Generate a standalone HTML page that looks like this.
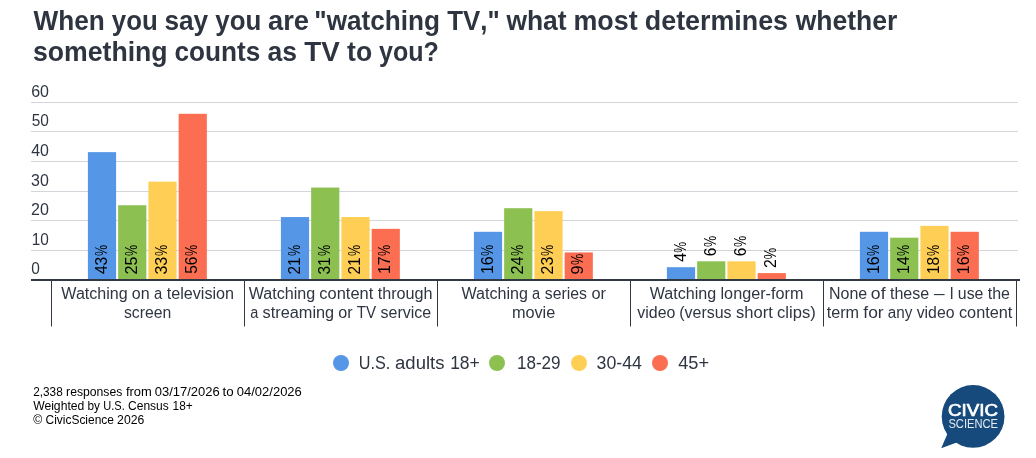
<!DOCTYPE html>
<html lang="en"><head><meta charset="utf-8"><title>CivicScience chart</title>
<style>html,body{margin:0;padding:0;background:#fff}svg{display:block}svg text{font-family:"Liberation Sans", Arial, Helvetica, sans-serif}</style></head>
<body>
<svg width="1036" height="458" viewBox="0 0 1036 458">
<rect width="1036" height="458" fill="#fff"/>
<text id="title" font-size="28" fill="#2e3541" font-weight="bold" style="font-kerning:none"><tspan x="33.61" y="30.0" textLength="71.25" lengthAdjust="spacingAndGlyphs">When</tspan> <tspan x="111.82" textLength="45.89" lengthAdjust="spacingAndGlyphs">you</tspan> <tspan x="164.38" textLength="43.75" lengthAdjust="spacingAndGlyphs">say</tspan> <tspan x="215.33" textLength="45.97" lengthAdjust="spacingAndGlyphs">you</tspan> <tspan x="268.05" textLength="41.01" lengthAdjust="spacingAndGlyphs">are</tspan> <tspan x="314.34" y="30.0" textLength="125.71" lengthAdjust="spacingAndGlyphs">"watching</tspan> <tspan x="447.25" textLength="52.44" lengthAdjust="spacingAndGlyphs">TV,"</tspan> <tspan x="506.39" y="30.0" textLength="60.26" lengthAdjust="spacingAndGlyphs">what</tspan> <tspan x="573.45" textLength="64.19" lengthAdjust="spacingAndGlyphs">most</tspan> <tspan x="644.85" textLength="143.19" lengthAdjust="spacingAndGlyphs">determines</tspan> <tspan x="795.72" textLength="101.59" lengthAdjust="spacingAndGlyphs">whether</tspan> <tspan x="33.00" y="60.8" textLength="134.64" lengthAdjust="spacingAndGlyphs">something</tspan> <tspan x="174.51" textLength="85.89" lengthAdjust="spacingAndGlyphs">counts</tspan> <tspan x="267.58" textLength="29.53" lengthAdjust="spacingAndGlyphs">as</tspan> <tspan x="304.18" textLength="35.55" lengthAdjust="spacingAndGlyphs">TV</tspan> <tspan x="347.04" textLength="25.08" lengthAdjust="spacingAndGlyphs">to</tspan> <tspan x="379.07" textLength="59.86" lengthAdjust="spacingAndGlyphs">you?</tspan></text>
<path d="M31 250.5H1018" stroke="#d3d5da" stroke-width="1" fill="none"/>
<path d="M31 220.5H1018" stroke="#d3d5da" stroke-width="1" fill="none"/>
<path d="M31 191.5H1018" stroke="#d3d5da" stroke-width="1" fill="none"/>
<path d="M31 161.5H1018" stroke="#d3d5da" stroke-width="1" fill="none"/>
<path d="M31 131.5H1018" stroke="#d3d5da" stroke-width="1" fill="none"/>
<path d="M31 102.5H1018" stroke="#d3d5da" stroke-width="1" fill="none"/>
<text id="y0" x="31.22" y="274" font-size="16" fill="#2f3542" textLength="8.59" lengthAdjust="spacingAndGlyphs">0</text>
<text id="y1" x="31.71" y="244.5" font-size="16" fill="#2f3542" textLength="17.06" lengthAdjust="spacingAndGlyphs">10</text>
<text id="y2" x="31.03" y="214.5" font-size="16" fill="#2f3542" textLength="17.79" lengthAdjust="spacingAndGlyphs">20</text>
<text id="y3" x="31.12" y="185.5" font-size="16" fill="#2f3542" textLength="17.73" lengthAdjust="spacingAndGlyphs">30</text>
<text id="y4" x="31.18" y="155.5" font-size="16" fill="#2f3542" textLength="17.70" lengthAdjust="spacingAndGlyphs">40</text>
<text id="y5" x="31.72" y="125.5" font-size="16" fill="#2f3542" textLength="17.13" lengthAdjust="spacingAndGlyphs">50</text>
<text id="y6" x="31.17" y="96.5" font-size="16" fill="#2f3542" textLength="17.76" lengthAdjust="spacingAndGlyphs">60</text>
<rect x="87.90" y="152.15" width="28.2" height="127.35" fill="#5596e6"/>
<rect x="118.15" y="205.25" width="28.2" height="74.25" fill="#8cc152"/>
<rect x="148.40" y="181.65" width="28.2" height="97.85" fill="#ffce54"/>
<rect x="178.65" y="113.80" width="28.2" height="165.70" fill="#fc6e51"/>
<rect x="280.90" y="217.05" width="28.2" height="62.45" fill="#5596e6"/>
<rect x="311.15" y="187.55" width="28.2" height="91.95" fill="#8cc152"/>
<rect x="341.40" y="217.05" width="28.2" height="62.45" fill="#ffce54"/>
<rect x="371.65" y="228.85" width="28.2" height="50.65" fill="#fc6e51"/>
<rect x="473.90" y="231.80" width="28.2" height="47.70" fill="#5596e6"/>
<rect x="504.15" y="208.20" width="28.2" height="71.30" fill="#8cc152"/>
<rect x="534.40" y="211.15" width="28.2" height="68.35" fill="#ffce54"/>
<rect x="564.65" y="252.45" width="28.2" height="27.05" fill="#fc6e51"/>
<rect x="666.90" y="267.20" width="28.2" height="12.30" fill="#5596e6"/>
<rect x="697.15" y="261.30" width="28.2" height="18.20" fill="#8cc152"/>
<rect x="727.40" y="261.30" width="28.2" height="18.20" fill="#ffce54"/>
<rect x="757.65" y="273.10" width="28.2" height="6.40" fill="#fc6e51"/>
<rect x="859.90" y="231.80" width="28.2" height="47.70" fill="#5596e6"/>
<rect x="890.15" y="237.70" width="28.2" height="41.80" fill="#8cc152"/>
<rect x="920.40" y="225.90" width="28.2" height="53.60" fill="#ffce54"/>
<rect x="950.65" y="231.80" width="28.2" height="47.70" fill="#fc6e51"/>
<text id="v0_0" y="274.45" font-size="16" fill="#000" transform="rotate(-90 106.75 274.45)"><tspan x="107.14" textLength="17.24" lengthAdjust="spacingAndGlyphs">43</tspan><tspan x="125.13" textLength="11.14" lengthAdjust="spacingAndGlyphs">%</tspan></text>
<text id="v0_1" y="274.45" font-size="16" fill="#000" transform="rotate(-90 137.0 274.45)"><tspan x="136.98" textLength="18.04" lengthAdjust="spacingAndGlyphs">25</tspan><tspan x="155.36" textLength="11.21" lengthAdjust="spacingAndGlyphs">%</tspan></text>
<text id="v0_2" y="274.45" font-size="16" fill="#000" transform="rotate(-90 167.25 274.45)"><tspan x="167.09" textLength="17.79" lengthAdjust="spacingAndGlyphs">33</tspan><tspan x="185.60" textLength="11.20" lengthAdjust="spacingAndGlyphs">%</tspan></text>
<text id="v0_3" y="274.45" font-size="16" fill="#000" transform="rotate(-90 197.5 274.45)"><tspan x="198.13" textLength="17.20" lengthAdjust="spacingAndGlyphs">56</tspan><tspan x="215.86" textLength="11.20" lengthAdjust="spacingAndGlyphs">%</tspan></text>
<text id="v1_0" y="274.45" font-size="16" fill="#000" transform="rotate(-90 299.75 274.45)"><tspan x="299.79" textLength="16.93" lengthAdjust="spacingAndGlyphs">21</tspan><tspan x="318.13" textLength="11.14" lengthAdjust="spacingAndGlyphs">%</tspan></text>
<text id="v1_1" y="274.45" font-size="16" fill="#000" transform="rotate(-90 330.0 274.45)"><tspan x="329.85" textLength="17.19" lengthAdjust="spacingAndGlyphs">31</tspan><tspan x="348.36" textLength="11.21" lengthAdjust="spacingAndGlyphs">%</tspan></text>
<text id="v1_2" y="274.45" font-size="16" fill="#000" transform="rotate(-90 360.25 274.45)"><tspan x="360.27" textLength="16.96" lengthAdjust="spacingAndGlyphs">21</tspan><tspan x="378.60" textLength="11.20" lengthAdjust="spacingAndGlyphs">%</tspan></text>
<text id="v1_3" y="274.45" font-size="16" fill="#000" transform="rotate(-90 390.5 274.45)"><tspan x="390.84" textLength="17.74" lengthAdjust="spacingAndGlyphs">17</tspan><tspan x="408.86" textLength="11.20" lengthAdjust="spacingAndGlyphs">%</tspan></text>
<text id="v2_0" y="274.45" font-size="16" fill="#000" transform="rotate(-90 492.75 274.45)"><tspan x="493.24" textLength="17.65" lengthAdjust="spacingAndGlyphs">16</tspan><tspan x="511.13" textLength="11.14" lengthAdjust="spacingAndGlyphs">%</tspan></text>
<text id="v2_1" y="274.45" font-size="16" fill="#000" transform="rotate(-90 523.0 274.45)"><tspan x="523.02" textLength="18.10" lengthAdjust="spacingAndGlyphs">24</tspan><tspan x="541.36" textLength="11.21" lengthAdjust="spacingAndGlyphs">%</tspan></text>
<text id="v2_2" y="274.45" font-size="16" fill="#000" transform="rotate(-90 553.25 274.45)"><tspan x="553.28" textLength="17.65" lengthAdjust="spacingAndGlyphs">23</tspan><tspan x="571.60" textLength="11.20" lengthAdjust="spacingAndGlyphs">%</tspan></text>
<text id="v2_3" y="274.45" font-size="16" fill="#000" transform="rotate(-90 583.5 274.45)"><tspan x="583.44" textLength="9.04" lengthAdjust="spacingAndGlyphs">9</tspan><tspan x="592.86" textLength="11.24" lengthAdjust="spacingAndGlyphs">%</tspan></text>
<text id="v3_0" y="262.3" font-size="16" fill="#000" transform="rotate(-90 685.75 262.3)"><tspan x="686.02" textLength="9.25" lengthAdjust="spacingAndGlyphs">4</tspan><tspan x="695.26" textLength="10.94" lengthAdjust="spacingAndGlyphs">%</tspan></text>
<text id="v3_1" y="256.4" font-size="16" fill="#000" transform="rotate(-90 716.0 256.4)"><tspan x="716.17" textLength="8.67" lengthAdjust="spacingAndGlyphs">6</tspan><tspan x="725.36" textLength="11.23" lengthAdjust="spacingAndGlyphs">%</tspan></text>
<text id="v3_2" y="256.4" font-size="16" fill="#000" transform="rotate(-90 746.25 256.4)"><tspan x="746.42" textLength="8.67" lengthAdjust="spacingAndGlyphs">6</tspan><tspan x="755.61" textLength="11.23" lengthAdjust="spacingAndGlyphs">%</tspan></text>
<text id="v3_3" y="268.2" font-size="16" fill="#000" transform="rotate(-90 776.5 268.2)"><tspan x="776.66" textLength="8.83" lengthAdjust="spacingAndGlyphs">2</tspan><tspan x="785.50" textLength="11.39" lengthAdjust="spacingAndGlyphs">%</tspan></text>
<text id="v4_0" y="274.45" font-size="16" fill="#000" transform="rotate(-90 878.75 274.45)"><tspan x="879.24" textLength="17.65" lengthAdjust="spacingAndGlyphs">16</tspan><tspan x="897.13" textLength="11.14" lengthAdjust="spacingAndGlyphs">%</tspan></text>
<text id="v4_1" y="274.45" font-size="16" fill="#000" transform="rotate(-90 909.0 274.45)"><tspan x="909.55" textLength="17.56" lengthAdjust="spacingAndGlyphs">14</tspan><tspan x="927.36" textLength="11.21" lengthAdjust="spacingAndGlyphs">%</tspan></text>
<text id="v4_2" y="274.45" font-size="16" fill="#000" transform="rotate(-90 939.25 274.45)"><tspan x="939.78" textLength="17.10" lengthAdjust="spacingAndGlyphs">18</tspan><tspan x="957.60" textLength="11.20" lengthAdjust="spacingAndGlyphs">%</tspan></text>
<text id="v4_3" y="274.45" font-size="16" fill="#000" transform="rotate(-90 969.5 274.45)"><tspan x="969.77" textLength="17.71" lengthAdjust="spacingAndGlyphs">16</tspan><tspan x="987.86" textLength="11.20" lengthAdjust="spacingAndGlyphs">%</tspan></text>
<path d="M31 280H1020" stroke="#313743" stroke-width="2" fill="none"/>
<path d="M51.5 280V326.5" stroke="#313743" stroke-width="1" fill="none"/>
<path d="M244.5 280V326.5" stroke="#313743" stroke-width="1" fill="none"/>
<path d="M437.5 280V326.5" stroke="#313743" stroke-width="1" fill="none"/>
<path d="M630.5 280V326.5" stroke="#313743" stroke-width="1" fill="none"/>
<path d="M823.5 280V326.5" stroke="#313743" stroke-width="1" fill="none"/>
<path d="M1016.5 280V326.5" stroke="#313743" stroke-width="1" fill="none"/>
<text id="cat0" font-size="16" fill="#2f3542"><tspan x="61.32" y="298.5" textLength="66.38" lengthAdjust="spacingAndGlyphs">Watching</tspan> <tspan x="131.85" textLength="17.81" lengthAdjust="spacingAndGlyphs">on</tspan> <tspan x="154.05" textLength="8.23" lengthAdjust="spacingAndGlyphs">a</tspan> <tspan x="166.67" textLength="67.40" lengthAdjust="spacingAndGlyphs">television</tspan> <tspan x="123.98" y="317.5" textLength="47.29" lengthAdjust="spacingAndGlyphs">screen</tspan></text>
<text id="cat1" font-size="16" fill="#2f3542"><tspan x="248.78" y="298.5" textLength="66.51" lengthAdjust="spacingAndGlyphs">Watching</tspan> <tspan x="319.38" textLength="53.87" lengthAdjust="spacingAndGlyphs">content</tspan> <tspan x="377.66" textLength="54.89" lengthAdjust="spacingAndGlyphs">through</tspan> <tspan x="250.25" y="317.5" textLength="8.08" lengthAdjust="spacingAndGlyphs">a</tspan> <tspan x="262.56" textLength="71.63" lengthAdjust="spacingAndGlyphs">streaming</tspan> <tspan x="338.39" textLength="14.34" lengthAdjust="spacingAndGlyphs">or</tspan> <tspan x="356.66" textLength="19.31" lengthAdjust="spacingAndGlyphs">TV</tspan> <tspan x="380.53" textLength="50.64" lengthAdjust="spacingAndGlyphs">service</tspan></text>
<text id="cat2" font-size="16" fill="#2f3542"><tspan x="461.50" y="298.5" textLength="66.43" lengthAdjust="spacingAndGlyphs">Watching</tspan> <tspan x="532.03" textLength="8.15" lengthAdjust="spacingAndGlyphs">a</tspan> <tspan x="544.81" textLength="42.19" lengthAdjust="spacingAndGlyphs">series</tspan> <tspan x="591.42" textLength="14.54" lengthAdjust="spacingAndGlyphs">or</tspan> <tspan x="511.90" y="317.5" textLength="43.39" lengthAdjust="spacingAndGlyphs">movie</tspan></text>
<text id="cat3" font-size="16" fill="#2f3542"><tspan x="649.72" y="298.5" textLength="66.49" lengthAdjust="spacingAndGlyphs">Watching</tspan> <tspan x="720.52" textLength="82.89" lengthAdjust="spacingAndGlyphs">longer-form</tspan> <tspan x="637.29" y="317.5" textLength="38.08" lengthAdjust="spacingAndGlyphs">video</tspan> <tspan x="679.29" textLength="52.29" lengthAdjust="spacingAndGlyphs">(versus</tspan> <tspan x="736.01" textLength="36.78" lengthAdjust="spacingAndGlyphs">short</tspan> <tspan x="777.09" textLength="38.67" lengthAdjust="spacingAndGlyphs">clips)</tspan></text>
<text id="cat4" font-size="16" fill="#2f3542"><tspan x="828.98" y="298.5" textLength="38.19" lengthAdjust="spacingAndGlyphs">None</tspan> <tspan x="870.88" textLength="14.65" lengthAdjust="spacingAndGlyphs">of</tspan> <tspan x="889.99" textLength="39.24" lengthAdjust="spacingAndGlyphs">these</tspan> <tspan x="934.06" textLength="10.54" lengthAdjust="spacingAndGlyphs">—</tspan> <tspan x="949.40" textLength="4.36" lengthAdjust="spacingAndGlyphs">I</tspan> <tspan x="957.84" textLength="25.55" lengthAdjust="spacingAndGlyphs">use</tspan> <tspan x="987.80" textLength="22.21" lengthAdjust="spacingAndGlyphs">the</tspan> <tspan x="826.71" y="317.5" textLength="32.38" lengthAdjust="spacingAndGlyphs">term</tspan> <tspan x="863.30" textLength="20.32" lengthAdjust="spacingAndGlyphs">for</tspan> <tspan x="887.76" textLength="24.55" lengthAdjust="spacingAndGlyphs">any</tspan> <tspan x="916.70" textLength="37.80" lengthAdjust="spacingAndGlyphs">video</tspan> <tspan x="958.95" textLength="53.42" lengthAdjust="spacingAndGlyphs">content</tspan></text>
<circle cx="341" cy="363.0" r="8" fill="#5596e6"/>
<text id="l0" y="368.8" font-size="18" fill="#2f3542"><tspan x="358.77" textLength="31.56" lengthAdjust="spacingAndGlyphs">U.S.</tspan> <tspan x="395.07" textLength="49.41" lengthAdjust="spacingAndGlyphs">adults</tspan> <tspan x="450.15" textLength="29.64" lengthAdjust="spacingAndGlyphs">18+</tspan></text>
<circle cx="497" cy="363.0" r="8" fill="#8cc152"/>
<text id="l1" x="516.98" y="368.8" font-size="18" fill="#2f3542" textLength="43.58" lengthAdjust="spacingAndGlyphs">18-29</text>
<circle cx="579" cy="363.0" r="8" fill="#ffce54"/>
<text id="l2" x="596.52" y="368.8" font-size="18" fill="#2f3542" textLength="45.39" lengthAdjust="spacingAndGlyphs">30-44</text>
<circle cx="660" cy="363.0" r="8" fill="#fc6e51"/>
<text id="l3" x="678.19" y="368.8" font-size="18" fill="#2f3542" textLength="30.85" lengthAdjust="spacingAndGlyphs">45+</text>
<text id="f0" y="395.8" font-size="12" fill="#000"><tspan x="33.26" textLength="29.46" lengthAdjust="spacingAndGlyphs">2,338</tspan> <tspan x="66.09" textLength="56.27" lengthAdjust="spacingAndGlyphs">responses</tspan> <tspan x="125.96" textLength="25.84" lengthAdjust="spacingAndGlyphs">from</tspan> <tspan x="154.70" textLength="64.99" lengthAdjust="spacingAndGlyphs">03/17/2026</tspan> <tspan x="222.62" textLength="11.13" lengthAdjust="spacingAndGlyphs">to</tspan> <tspan x="236.74" textLength="65.11" lengthAdjust="spacingAndGlyphs">04/02/2026</tspan></text>
<text id="f1" y="409.7" font-size="12" fill="#000"><tspan x="33.17" textLength="51.15" lengthAdjust="spacingAndGlyphs">Weighted</tspan> <tspan x="87.51" textLength="12.47" lengthAdjust="spacingAndGlyphs">by</tspan> <tspan x="103.27" textLength="21.51" lengthAdjust="spacingAndGlyphs">U.S.</tspan> <tspan x="128.05" textLength="40.76" lengthAdjust="spacingAndGlyphs">Census</tspan> <tspan x="172.59" textLength="20.13" lengthAdjust="spacingAndGlyphs">18+</tspan></text>
<text id="f2" y="423.6" font-size="12" fill="#000"><tspan x="33.34" textLength="8.94" lengthAdjust="spacingAndGlyphs">©</tspan> <tspan x="45.51" textLength="68.46" lengthAdjust="spacingAndGlyphs">CivicScience</tspan> <tspan x="117.12" textLength="27.17" lengthAdjust="spacingAndGlyphs">2026</tspan></text>
<circle cx="973.1" cy="416.4" r="31.4" fill="#174a7c"/>
<path d="M941.2 448.2L949.7 428.6L964.7 439.4Z" fill="#174a7c"/>
<text x="948.0" y="416.1" font-size="17.2" fill="#fff" stroke="#fff" stroke-width="0.7" stroke-linejoin="round" textLength="50.0" lengthAdjust="spacingAndGlyphs">CIVIC</text>
<text x="948.4" y="427.9" font-size="12.1" fill="#fff" fill-opacity="0.88" textLength="49.6" lengthAdjust="spacingAndGlyphs">SCIENCE</text>
</svg>
</body></html>
